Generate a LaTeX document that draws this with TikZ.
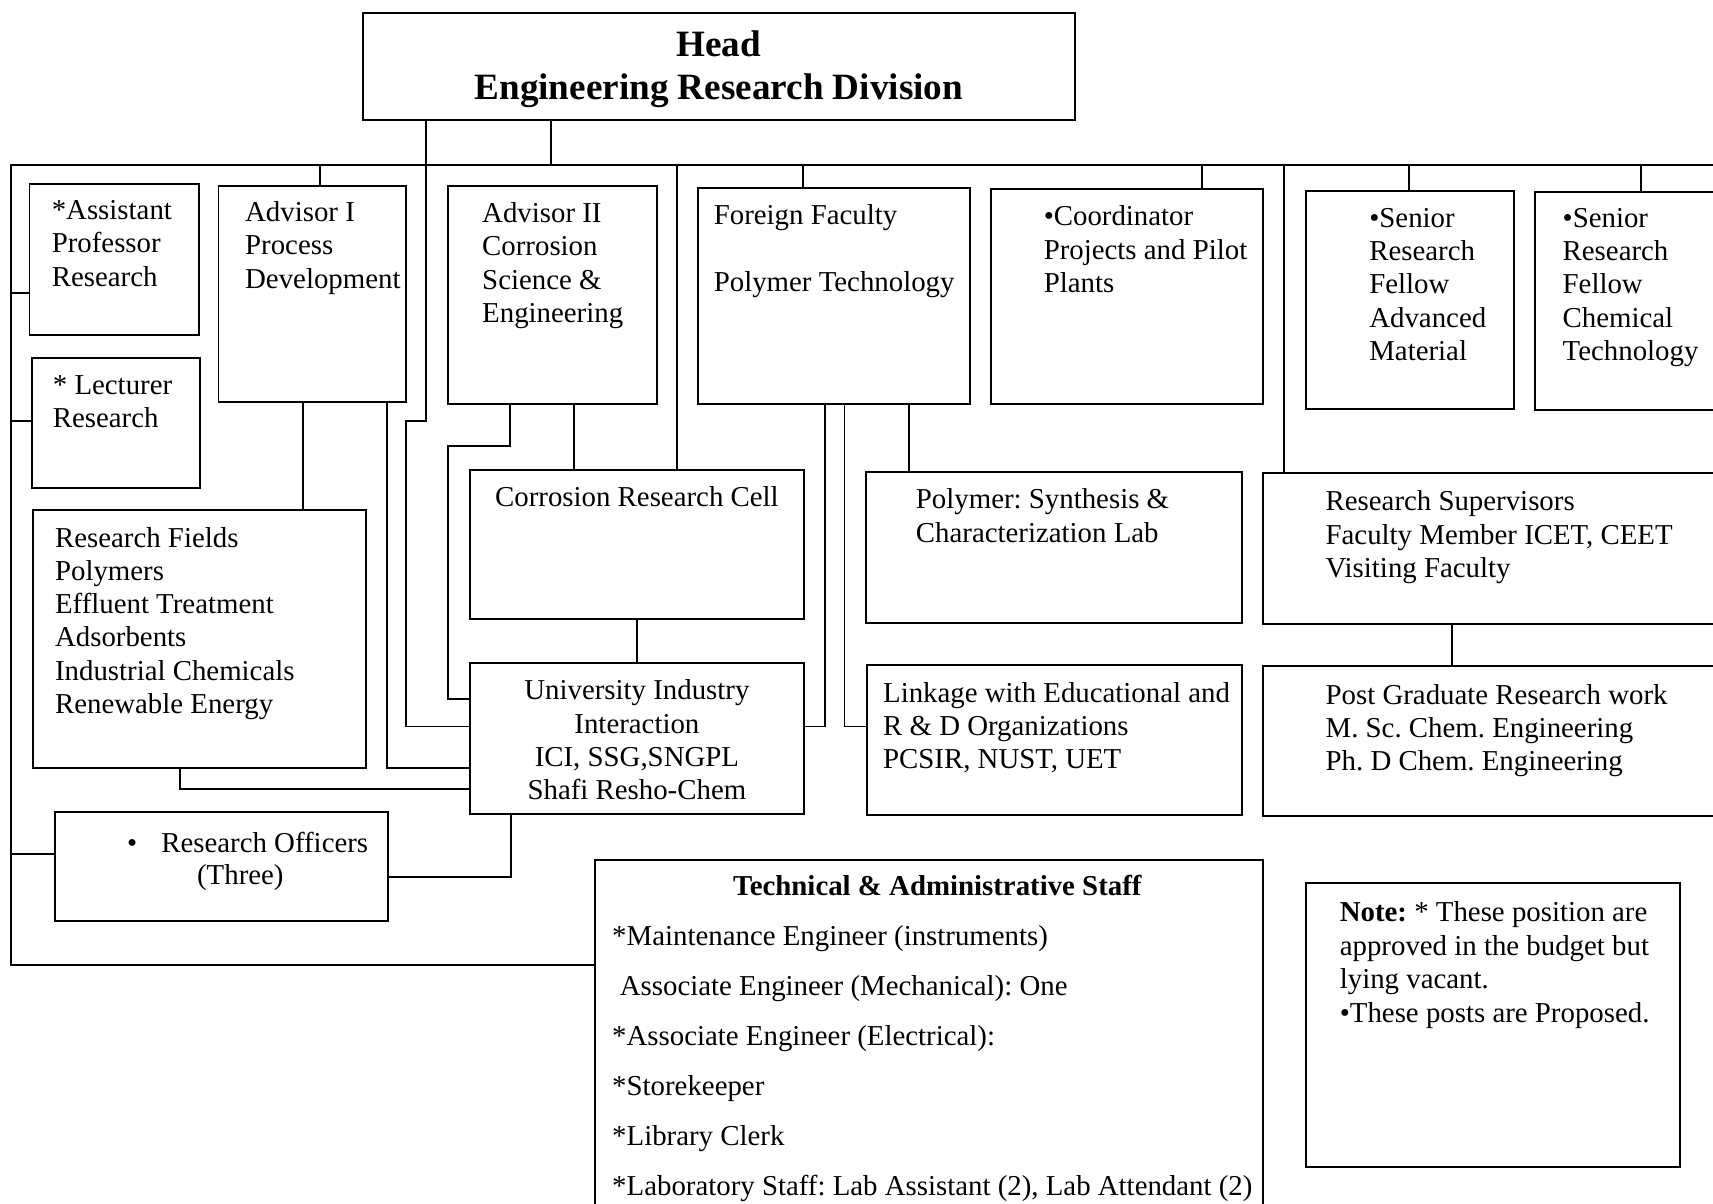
\documentclass[tikz,border=0pt]{standalone}
\usepackage{fontspec}
\setmainfont{Liberation Serif}
\frenchspacing
\usetikzlibrary{fit}
\tikzset{
  bx/.style={draw, line width=0.9pt, inner sep=0pt},
  txt/.style={inner sep=0pt, anchor=north west, align=left, font=\fontsize{13.2}{15.25}\selectfont},
  ctxt/.style={inner sep=0pt, anchor=north, align=center, font=\fontsize{13.2}{15.25}\selectfont},
  ln/.style={line width=0.9pt},
}
\begin{document}
\begin{tikzpicture}[x=0.5pt,y=-0.5pt]
\useasboundingbox (0,0) rectangle (1568,1102);
\clip (0,0) rectangle (1568,1102);

% boxes
\node[bx, fit={(332,12) (984,110)}] (head) {};
\node[bx, fit={(27,168) (182,307)}] (ap) {};
\node[bx, fit={(29,328) (183,447)}] (lec) {};
\node[bx, fit={(200,170) (372,368)}] (adv1) {};
\node[bx, fit={(410,170) (601,370)}] (adv2) {};
\node[bx, fit={(639,172) (888,370)}] (ff) {};
\node[bx, fit={(907,173) (1156,370)}] (coord) {};
\node[bx, fit={(1195,175) (1386,374)}] (srfam) {};
\node[bx, fit={(1405,176) (1590,375)}] (srfct) {};
\node[bx, fit={(30,467) (335,703)}] (rf) {};
\node[bx, fit={(430,430) (736,567)}] (crc) {};
\node[bx, fit={(430,607) (736,745)}] (uii) {};
\node[bx, fit={(50,743) (355,843)}] (ro) {};
\node[bx, fit={(793,432) (1137,570)}] (poly) {};
\node[bx, fit={(794,609) (1137,746)}] (link) {};
\node[bx, fit={(1156,433) (1590,571)}] (rs) {};
\node[bx, fit={(1156,610) (1590,747)}] (pg) {};
\node[bx, fit={(545,787) (1156,1120)}] (tas) {};
\node[bx, fit={(1195,808) (1538,1068)}] (note) {};

% texts
\node[inner sep=0pt, anchor=north, align=center, font=\bfseries\fontsize{17}{19.5}\selectfont] at (658,28) {Head\\Engineering Research Division};
\node[txt] at (47,183) {*Assistant\\Professor\\Research};
\node[txt] at (48,343) {* Lecturer\\Research};
\node[txt] at (224,184) {Advisor I\\Process\\Development};
\node[txt] at (441,185) {Advisor II\\Corrosion\\Science \&\\Engineering};
\node[txt] at (653,187) {Foreign Faculty\\[15.25pt]Polymer Technology};
\node[txt] at (955,188) {\textbullet Coordinator\\Projects and Pilot\\Plants};
\node[txt] at (1253,190) {\textbullet Senior\\Research\\Fellow\\Advanced\\Material};
\node[txt] at (1430,190) {\textbullet Senior\\Research\\Fellow\\Chemical\\Technology};
\node[txt] at (50,482) {Research Fields\\Polymers\\Effluent Treatment\\Adsorbents\\Industrial Chemicals\\Renewable Energy};
\node[ctxt] at (583,445) {Corrosion Research Cell};
\node[ctxt] at (583,622) {University Industry\\Interaction\\ICI, SSG,SNGPL\\Shafi Resho-Chem};
\node[txt] at (116,761) {\textbullet\hspace{11pt}Research Officers};
\node[ctxt] at (220,791) {(Three)};
\node[txt] at (838,447) {Polymer: Synthesis \&\\Characterization Lab};
\node[txt] at (808,624) {Linkage with Educational and\\R \& D Organizations\\PCSIR, NUST, UET};
\node[txt] at (1213,449) {Research Supervisors\\Faculty Member ICET, CEET\\Visiting Faculty};
\node[txt] at (1213,626) {Post Graduate Research work\\M. Sc. Chem. Engineering\\Ph. D Chem. Engineering};
\node[ctxt, font=\bfseries\fontsize{13.2}{15.25}\selectfont] at (858,801) {Technical \& Administrative Staff};
\node[txt, font=\fontsize{13.2}{22.9}\selectfont] at (560,847) {*Maintenance Engineer (instruments)\\\hspace*{3.5pt}Associate Engineer (Mechanical): One\\*Associate Engineer (Electrical):\\*Storekeeper\\*Library Clerk\\*Laboratory Staff: Lab Assistant (2), Lab Attendant (2)};
\node[txt, font=\fontsize{13.2}{15.35}\selectfont] at (1226,825) {\textbf{Note:} * These position are\\approved in the budget but\\lying vacant.\\\textbullet These posts are Proposed.};

% connectors
\coordinate (busL) at (10,151);
\coordinate (busR) at (1590,151);
\draw[ln] (head.south -| 504,0) -- (504,151);
\draw[ln] (busR) -- (busL) -- (10,883) -- (tas.west |- 0,883);
\draw[ln] (10,268) -- (ap.west |- 0,268);
\draw[ln] (10,385) -- (lec.west |- 0,385);
\draw[ln] (10,782) -- (ro.west |- 0,782);
\draw[ln] (293,151) -- (adv1.north -| 293,0);
\draw[ln] (620,151) -- (crc.north -| 620,0);
\draw[ln] (735,151) -- (ff.north -| 735,0);
\draw[ln] (1100,151) -- (coord.north -| 1100,0);
\draw[ln] (1175,151) -- (rs.north -| 1175,0);
\draw[ln] (1290,151) -- (srfam.north -| 1290,0);
\draw[ln] (1502,151) -- (srfct.north -| 1502,0);
\draw[ln] (head.south -| 390,0) -- (390,385) -- (372,385) -- (372,665) -- (uii.west |- 0,665);
\draw[ln] (adv1.south -| 277,0) -- (rf.north -| 277,0);
\draw[ln] (adv1.south -| 354,0) -- (354,703) -- (uii.west |- 0,703);
\draw[ln] (rf.south -| 165,0) -- (165,722) -- (uii.west |- 0,722);
\draw[ln] (adv2.south -| 467,0) -- (467,408) -- (410,408) -- (410,640) -- (uii.west |- 0,640);
\draw[ln] (adv2.south -| 525,0) -- (crc.north -| 525,0);
\draw[ln] (crc.south) -- (uii.north);
\draw[ln] (uii.south -| 468,0) -- (468,803) -- (ro.east |- 0,803);
\draw[ln] (ff.south -| 755,0) -- (755,665) -- (uii.east |- 0,665);
\draw[ln] (ff.south -| 773,0) -- (773,665) -- (link.west |- 0,665);
\draw[ln] (ff.south -| 832,0) -- (poly.north -| 832,0);
\draw[ln] (rs.south -| 1329,0) -- (pg.north -| 1329,0);
\end{tikzpicture}
\end{document}
